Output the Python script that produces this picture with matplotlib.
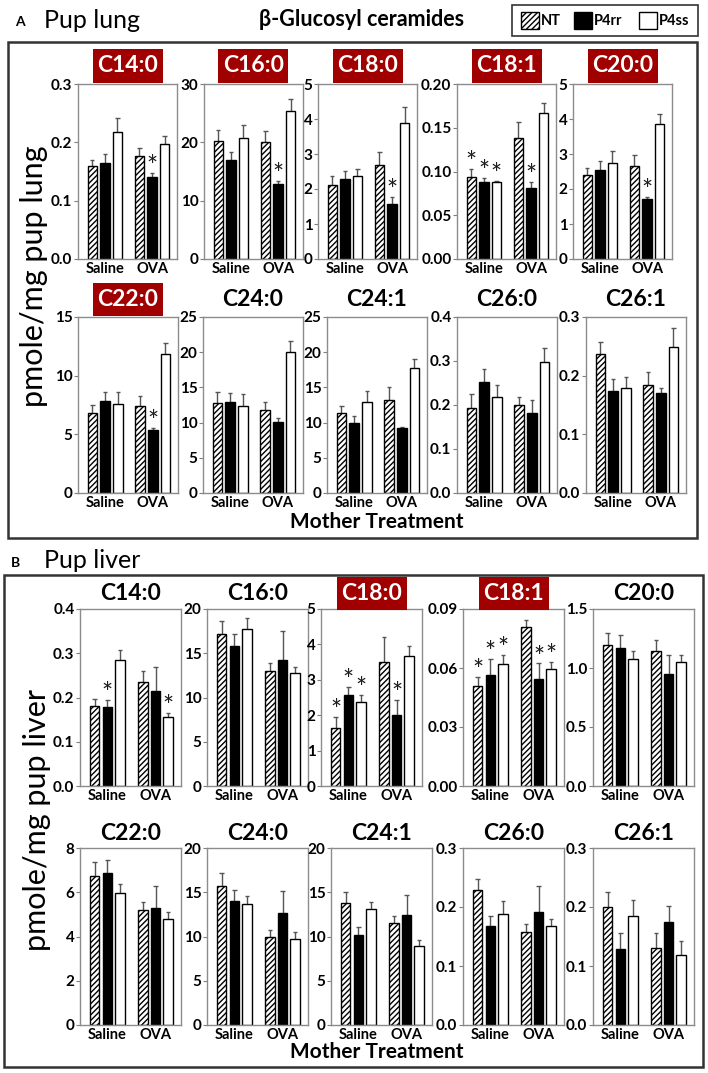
import numpy as np
import matplotlib.pyplot as plt
from matplotlib.patches import Rectangle

plt.rcParams['font.family'] = ['Lato', 'DejaVu Sans']
plt.rcParams['hatch.linewidth'] = 1.0

groups = ['Saline', 'OVA']
series = ['NT', 'P4rr', 'P4ss']

# order inside each row: NT, P4rr, P4ss for Saline, then NT, P4rr, P4ss for OVA
lung_names = ['C14:0', 'C16:0', 'C18:0', 'C18:1', 'C20:0',
              'C22:0', 'C24:0', 'C24:1', 'C26:0', 'C26:1']
lung_red = [1, 1, 1, 1, 1, 1, 0, 0, 0, 0]
lung_ymax = [0.3, 30, 5, 0.20, 5, 15, 25, 25, 0.4, 0.3]
lung_step = [0.1, 10, 1, 0.05, 1, 5, 5, 5, 0.1, 0.1]
lung_fmt = ['%.1f', '%d', '%d', '%.2f', '%d', '%d', '%d', '%d', '%.1f', '%.1f']
lung_mean = [
    [0.160, 0.164, 0.2175, 0.177, 0.141, 0.1975],
    [20.3, 16.9, 20.7, 20.1, 12.9, 25.4],
    [2.11, 2.28, 2.37, 2.68, 1.58, 3.88],
    [0.094, 0.0875, 0.0885, 0.1386, 0.0813, 0.1664],
    [2.39, 2.55, 2.75, 2.67, 1.72, 3.85],
    [6.85, 7.81, 7.56, 7.39, 5.34, 11.88],
    [12.74, 12.93, 12.4, 11.79, 10.13, 20.03],
    [11.35, 9.97, 12.88, 13.17, 9.26, 17.75],
    [0.194, 0.2515, 0.219, 0.200, 0.1826, 0.2977],
    [0.2364, 0.1733, 0.179, 0.1836, 0.171, 0.2484],
]
lung_err = [
    [0.010, 0.016, 0.024, 0.014, 0.007, 0.014],
    [1.8, 1.5, 2.2, 1.8, 0.4, 2.1],
    [0.27, 0.24, 0.19, 0.39, 0.19, 0.46],
    [0.009, 0.0056, 0.0012, 0.0184, 0.0065, 0.0116],
    [0.21, 0.24, 0.35, 0.30, 0.06, 0.29],
    [0.68, 0.80, 1.05, 0.88, 0.20, 0.88],
    [1.61, 1.27, 1.66, 1.09, 0.52, 1.57],
    [0.95, 1.00, 1.62, 1.95, 0.14, 1.33],
    [0.030, 0.031, 0.0265, 0.018, 0.028, 0.0318],
    [0.0212, 0.0212, 0.0195, 0.0234, 0.008, 0.0333],
]
lung_star = [
    [0, 0, 0, 0, 1, 0],
    [0, 0, 0, 0, 1, 0],
    [0, 0, 0, 0, 1, 0],
    [1, 1, 1, 0, 1, 0],
    [0, 0, 0, 0, 1, 0],
    [0, 0, 0, 0, 1, 0],
    [0, 0, 0, 0, 0, 0],
    [0, 0, 0, 0, 0, 0],
    [0, 0, 0, 0, 0, 0],
    [0, 0, 0, 0, 0, 0],
]

liver_names = ['C14:0', 'C16:0', 'C18:0', 'C18:1', 'C20:0',
               'C22:0', 'C24:0', 'C24:1', 'C26:0', 'C26:1']
liver_red = [0, 0, 1, 1, 0, 0, 0, 0, 0, 0]
liver_ymax = [0.4, 20, 5, 0.09, 1.5, 8, 20, 20, 0.3, 0.3]
liver_step = [0.1, 5, 1, 0.03, 0.5, 2, 5, 5, 0.1, 0.1]
liver_fmt = ['%.1f', '%d', '%d', '%.2f', '%.1f', '%d', '%d', '%d', '%.1f', '%.1f']
liver_mean = [
    [0.180, 0.178, 0.2845, 0.2347, 0.2158, 0.156],
    [17.17, 15.77, 17.74, 13.02, 14.19, 12.72],
    [1.63, 2.57, 2.38, 3.50, 2.01, 3.68],
    [0.0511, 0.0562, 0.0618, 0.0806, 0.0543, 0.0594],
    [1.191, 1.171, 1.078, 1.140, 0.945, 1.053],
    [6.72, 6.85, 5.95, 5.21, 5.28, 4.80],
    [15.7, 14.04, 13.7, 9.89, 12.6, 9.77],
    [13.76, 10.15, 13.12, 11.52, 12.43, 8.94],
    [0.2286, 0.1681, 0.1879, 0.158, 0.1913, 0.167],
    [0.1998, 0.1296, 0.1845, 0.1307, 0.1754, 0.1183],
]
liver_err = [
    [0.017, 0.017, 0.0225, 0.025, 0.053, 0.010],
    [1.51, 1.36, 1.24, 0.83, 3.31, 0.71],
    [0.32, 0.22, 0.19, 0.71, 0.41, 0.28],
    [0.0044, 0.0085, 0.0048, 0.0038, 0.008, 0.0039],
    [0.102, 0.105, 0.068, 0.097, 0.167, 0.059],
    [0.63, 0.61, 0.42, 0.37, 0.98, 0.29],
    [1.5, 1.24, 0.83, 0.79, 2.49, 0.76],
    [1.24, 0.88, 0.76, 0.84, 2.21, 0.68],
    [0.0193, 0.0169, 0.0221, 0.0135, 0.0447, 0.013],
    [0.0254, 0.026, 0.0266, 0.0255, 0.0255, 0.0249],
]
liver_star = [
    [0, 1, 0, 0, 0, 1],
    [0, 0, 0, 0, 0, 0],
    [1, 1, 1, 0, 1, 0],
    [1, 1, 1, 0, 1, 1],
    [0, 0, 0, 0, 0, 0],
    [0, 0, 0, 0, 0, 0],
    [0, 0, 0, 0, 0, 0],
    [0, 0, 0, 0, 0, 0],
    [0, 0, 0, 0, 0, 0],
    [0, 0, 0, 0, 0, 0],
]

W, H = 708, 1073
fig = plt.figure(figsize=(W / 100, H / 100), dpi=100)

def fx(x):
    return x / W

def fy(y):
    return 1 - y / H

def box(x0, y0, x1, y1, **kw):
    fig.add_artist(Rectangle((fx(x0), fy(y1)), (x1 - x0) / W, (y1 - y0) / H,
                             transform=fig.transFigure, **kw))

# axes boxes in pixels: lefts per row, plus width, top, bottom, title centre
rows = [
    ([78, 204, 318, 457, 573], 99, 84, 259, 66),
    ([78, 203, 327, 457, 586], 100, 317, 493, 299),
    ([80, 207, 321, 463, 593], 101, 609, 786, 593),
    ([80, 207, 331, 463, 593], 101, 848, 1025, 833),
]

styles = [dict(facecolor='white', hatch='//////'),
          dict(facecolor='black'),
          dict(facecolor='white')]
offs = [-0.266, 0.0, 0.266]

def draw_panel(ax, mean, err, star, ymax, step, fmt):
    for s in range(3):
        xs = np.arange(2) + offs[s]
        m = [mean[s], mean[s + 3]]
        e = [err[s], err[s + 3]]
        ax.bar(xs, m, width=0.2, edgecolor='black', linewidth=1.0, zorder=2, **styles[s])
        tops = np.array(m) + np.array(e)
        ax.vlines(xs, m, tops, color='#555555', linewidth=1.0, zorder=1)
        ax.hlines(tops, xs - 0.045, xs + 0.045, color='#555555', linewidth=1.0, zorder=1)
        for g in range(2):
            if star[s + 3 * g]:
                ax.text(xs[g], tops[g] - ymax * 0.04, '*', ha='center', va='bottom',
                        fontsize=19, color='#1a1a1a', zorder=3)
    ax.set_xlim(-0.57, 1.53)
    ax.set_ylim(0, ymax)
    ticks = np.arange(0, ymax + step / 2, step)
    ax.set_yticks(ticks)
    ax.set_yticklabels([fmt % t for t in ticks], fontsize=11, fontweight='bold')
    ax.set_xticks([0, 1])
    ax.set_xticklabels(groups, fontsize=10.5, fontweight='bold')
    ax.tick_params(axis='x', length=0, pad=2)
    ax.tick_params(axis='y', length=3, width=0.8, color='#7f7f7f', pad=1)
    for sp in ax.spines.values():
        sp.set_color('#8c8c8c')
        sp.set_linewidth(1.0)

def draw_tissue(r0, names, red, ymaxs, steps, fmts, means, errs, stars):
    for k in range(10):
        lefts, w, top, bot, ty = rows[r0 + k // 5]
        left = lefts[k % 5]
        ax = fig.add_axes([fx(left), fy(bot), w / W, (bot - top) / H])
        draw_panel(ax, means[k], errs[k], stars[k], ymaxs[k], steps[k], fmts[k])
        cx = left + w / 2
        if red[k]:
            box(cx - 35, ty - 16.5, cx + 35, ty + 16.5, facecolor='#a00000', edgecolor='none')
            fig.text(fx(cx), fy(ty), names[k], ha='center', va='center',
                     fontsize=16.5, fontweight='bold', color='white')
        else:
            fig.text(fx(cx), fy(ty), names[k], ha='center', va='center',
                     fontsize=16.5, fontweight='bold', color='black')

# panel frames
box(8, 42, 697, 538, facecolor='none', edgecolor='#333333', linewidth=1.8)
box(4, 575, 703, 1067, facecolor='none', edgecolor='#333333', linewidth=1.8)

draw_tissue(0, lung_names, lung_red, lung_ymax, lung_step, lung_fmt,
            lung_mean, lung_err, lung_star)
draw_tissue(2, liver_names, liver_red, liver_ymax, liver_step, liver_fmt,
            liver_mean, liver_err, liver_star)

# headers and labels
fig.text(fx(20), fy(22), 'A', fontsize=10, fontweight='bold', ha='center', va='center')
fig.text(fx(44), fy(20), 'Pup lung', fontsize=18, ha='left', va='center')
fig.text(fx(16), fy(563), 'B', fontsize=10, fontweight='bold', ha='center', va='center')
fig.text(fx(44), fy(561), 'Pup liver', fontsize=18, ha='left', va='center')
fig.text(fx(362), fy(19), 'β-Glucosyl ceramides', fontsize=15.5, fontweight='bold',
         ha='center', va='center')

fig.text(fx(34), fy(276), 'pmole/mg pup lung', rotation=90, fontsize=22,
         ha='center', va='center')
fig.text(fx(37), fy(820), 'pmole/mg pup liver', rotation=90, fontsize=22,
         ha='center', va='center')
fig.text(fx(377), fy(522), 'Mother Treatment', fontsize=15, fontweight='bold',
         ha='center', va='center')
fig.text(fx(377), fy(1052), 'Mother Treatment', fontsize=15, fontweight='bold',
         ha='center', va='center')

# legend
box(512, 5, 698, 36, facecolor='white', edgecolor='#333333', linewidth=1.2)
leg_x = [521, 574, 639]
for i in range(3):
    box(leg_x[i], 12, leg_x[i] + 18, 29, edgecolor='black', linewidth=1.0, **styles[i])
    fig.text(fx(leg_x[i] + 20), fy(21), series[i], fontsize=10.5, fontweight='bold',
             ha='left', va='center')

fig.savefig('out.png', dpi=100)
